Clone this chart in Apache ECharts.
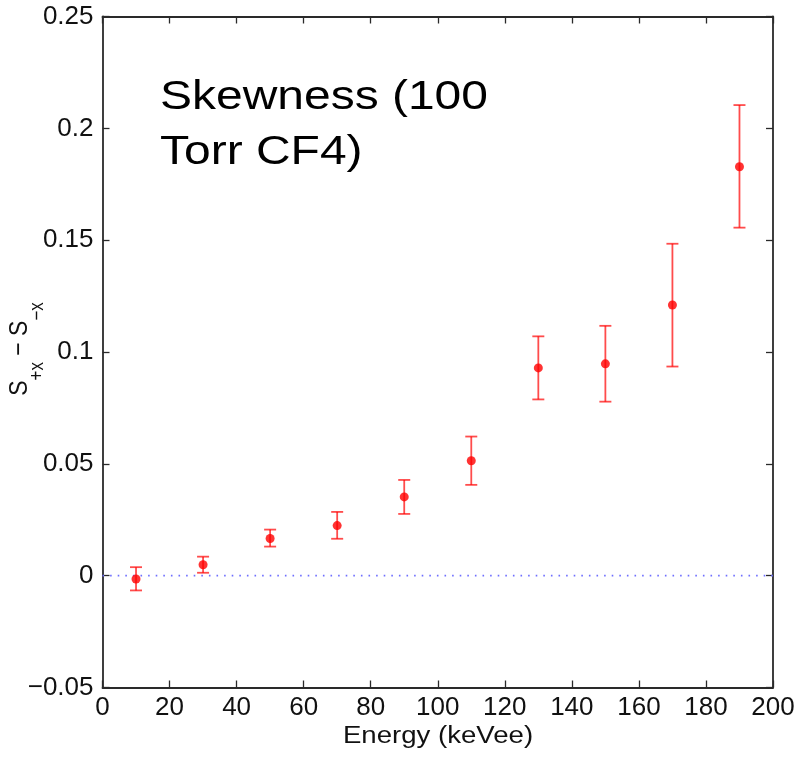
<!DOCTYPE html>
<html>
<head>
<meta charset="utf-8">
<script src="https://cdn.jsdelivr.net/npm/echarts@6/dist/echarts.min.js"></script>
<style>
  html, body { margin: 0; padding: 0; background: #fff; }
  #chart { width: 798px; height: 759px; }
</style>
</head>
<body>
<div id="chart"></div>
<script>
// Skewness difference vs. recoil energy, 100 Torr CF4
const energy = [10, 30, 50, 70, 90, 110, 130, 150, 170, 190];
const skew   = [-0.0015, 0.0049, 0.0166, 0.0224, 0.0352, 0.0514, 0.0929, 0.0947, 0.1210, 0.1828];
const upper  = [0.0038, 0.0085, 0.0206, 0.0285, 0.0428, 0.0622, 0.1070, 0.1117, 0.1484, 0.2104];
const lower  = [-0.0066, 0.0013, 0.0130, 0.0165, 0.0276, 0.0406, 0.0788, 0.0778, 0.0935, 0.1556];
const xTicks = [0, 20, 40, 60, 80, 100, 120, 140, 160, 180, 200];
const yTicks = [-0.05, 0, 0.05, 0.1, 0.15, 0.2, 0.25];

const FONT = '"Liberation Sans", Arial, Helvetica, sans-serif';
const AXIS_COLOR = '#2a2a2a';
const RED = '#ff0000';

const chart = echarts.init(document.getElementById('chart'), null, { renderer: 'canvas' });

const errData = energy.map((e, i) => [e, lower[i], upper[i]]);
const ptData = energy.map((e, i) => [e, skew[i]]);

function yLabel(v) {
  if (Math.abs(v) < 1e-9) return '0';
  return (v < 0 ? '\u2212' : '') + String(Math.abs(Math.round(v * 100) / 100));
}

const baseAxis = {
  axisLine: { show: true, onZero: false, lineStyle: { color: AXIS_COLOR, width: 1.8 } },
  axisTick: { show: true, inside: true, length: 7, lineStyle: { color: AXIS_COLOR, width: 1.3 } },
  splitLine: { show: false }
};

const option = {
  backgroundColor: '#ffffff',
  animation: false,
  grid: { left: 102.5, right: 25, top: 16.5, bottom: 71.5, containLabel: false, outerBoundsMode: 'none' },
  xAxis: [
    Object.assign({}, baseAxis, {
      type: 'value', min: 0, max: 200, interval: 20, position: 'bottom',
      axisLabel: { color: '#111', fontFamily: FONT, fontSize: 26, margin: 7,
        formatter: v => String(xTicks.find(t => Math.abs(t - v) < 1e-6) ?? v) }
    }),
    Object.assign({}, baseAxis, {
      type: 'value', min: 0, max: 200, interval: 20, position: 'top',
      axisLabel: { show: false }
    })
  ],
  yAxis: [
    Object.assign({}, baseAxis, {
      type: 'value', min: -0.05, max: 0.25, interval: 0.05, position: 'left',
      axisLabel: { color: '#111', fontFamily: FONT, fontSize: 26, margin: 9,
        formatter: v => yLabel(yTicks.find(t => Math.abs(t - v) < 1e-6) ?? v) }
    }),
    Object.assign({}, baseAxis, {
      type: 'value', min: -0.05, max: 0.25, interval: 0.05, position: 'right',
      axisLabel: { show: false }
    })
  ],
  graphic: [
    {
      // in-plot title
      type: 'text', left: 160, top: 70, silent: true, scaleX: 1.17,
      style: {
        text: 'Skewness (100\nTorr CF4)',
        font: '41px ' + FONT, fill: '#000', lineHeight: 55
      }
    },
    {
      // x axis title
      type: 'text', x: 438, y: 737, silent: true, scaleX: 1.2,
      style: {
        text: 'Energy (keVee)', font: '23px ' + FONT, fill: '#111',
        align: 'center', verticalAlign: 'middle'
      }
    },
    {
      // y axis title, with subscripts
      type: 'text', x: 27, y: 349, rotation: Math.PI / 2, scaleY: 1.15, silent: true,
      style: {
        text: '{s|S}{sub|+x}{s| \u2212 S}{sub|\u2212x}',
        align: 'center', verticalAlign: 'middle',
        rich: {
          s: { fontSize: 23, lineHeight: 23, verticalAlign: 'top', fontFamily: FONT, fill: '#111' },
          sub: { fontSize: 17, lineHeight: 35, verticalAlign: 'bottom', fontFamily: FONT, fill: '#111' }
        }
      }
    }
  ],
  series: [
    {
      // zero reference line
      type: 'line', xAxisIndex: 0, yAxisIndex: 0,
      data: [[0, 0], [200, 0]], symbol: 'none', silent: true,
      lineStyle: { color: '#6f6fff', width: 1.6, type: [1.6, 6] }, z: 1
    },
    {
      type: 'custom', xAxisIndex: 0, yAxisIndex: 0, silent: true, z: 3,
      data: errData,
      renderItem: function (params, api) {
        const x = api.value(0);
        const lo = api.coord([x, api.value(1)]);
        const hi = api.coord([x, api.value(2)]);
        const hw = 6;
        const st = { stroke: RED, lineWidth: 1.8, opacity: 0.7 };
        return {
          type: 'group',
          children: [
            { type: 'line', shape: { x1: lo[0], y1: lo[1], x2: hi[0], y2: hi[1] }, style: st },
            { type: 'line', shape: { x1: hi[0] - hw, y1: hi[1], x2: hi[0] + hw, y2: hi[1] }, style: st },
            { type: 'line', shape: { x1: lo[0] - hw, y1: lo[1], x2: lo[0] + hw, y2: lo[1] }, style: st }
          ]
        };
      }
    },
    {
      type: 'scatter', xAxisIndex: 0, yAxisIndex: 0, silent: true, z: 4,
      data: ptData, symbol: 'circle', symbolSize: 9,
      itemStyle: { color: RED }
    }
  ]
};

chart.setOption(option);
</script>
</body>
</html>
